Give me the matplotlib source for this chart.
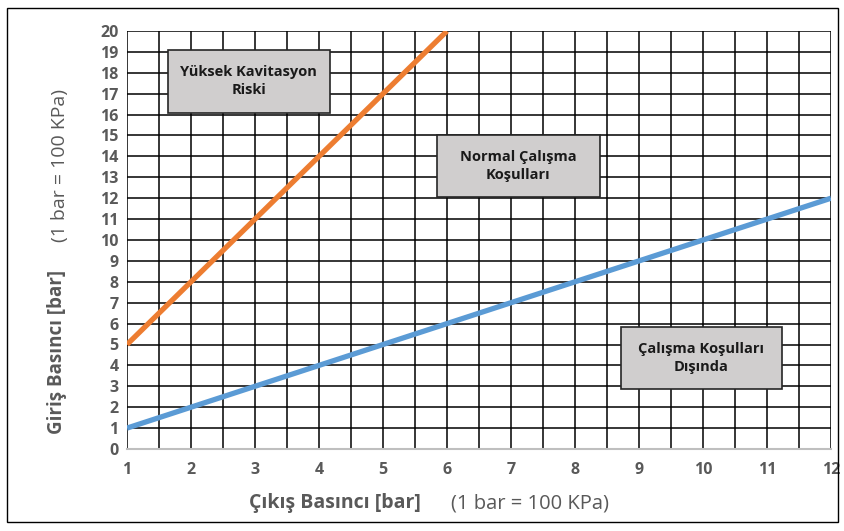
import numpy as np
import matplotlib.pyplot as plt
from matplotlib.patches import Rectangle

plt.rcParams['font.family'] = ['Open Sans', 'DejaVu Sans']

# veriler
x_turuncu = [1, 6]
y_turuncu = [5, 20]
x_mavi = [1, 12]
y_mavi = [1, 12]

x_ticks = list(range(1, 13))
y_ticks = list(range(0, 21))

# etiket kutulari: (metin, x0, y0, x1, y1)
kutular = [
    ("Yüksek Kavitasyon\nRiski", 1.64, 16.1, 4.17, 19.1),
    ("Normal Çalışma\nKoşulları", 5.84, 12.05, 8.39, 15.0),
    ("Çalışma Koşulları\nDışında", 8.72, 2.87, 11.23, 5.84),
]

fig = plt.figure(figsize=(8.44, 5.31), dpi=100)
ax = fig.add_axes([127/844, 82/531, 704/844, 418/531])

# izgara
for v in np.arange(1, 12.01, 0.5):
    ax.axvline(v, color='black', lw=1.1, zorder=1)
for h in y_ticks[1:]:
    ax.axhline(h, color='black', lw=1.1, zorder=1)

ax.plot(x_turuncu, y_turuncu, color='#ED7D31', lw=3.8, zorder=3, solid_capstyle='butt')
ax.plot(x_mavi, y_mavi, color='#5B9BD5', lw=3.8, zorder=3, solid_capstyle='butt')

for metin, x0, y0, x1, y1 in kutular:
    ax.add_patch(Rectangle((x0, y0), x1 - x0, y1 - y0, facecolor='#D0CECE',
                           edgecolor='#262626', lw=1.2, zorder=4))
    ax.text((x0 + x1) / 2, (y0 + y1) / 2, metin, ha='center', va='center',
            fontsize=10.5, fontweight='bold', color='#1a1a1a', zorder=5, linespacing=1.35)

ax.set_xlim(1, 12)
ax.set_ylim(0, 20)
ax.set_xticks(x_ticks)
ax.set_xticklabels([str(t) for t in x_ticks], fontweight='bold', fontsize=11.5)
ax.set_yticks(y_ticks)
ax.set_yticklabels([str(t) for t in y_ticks], fontweight='bold', fontsize=11.5)
ax.tick_params(length=0, labelcolor='#595959')
ax.tick_params(axis='x', pad=9)
ax.tick_params(axis='y', pad=6)
for s in ['top', 'right', 'left']:
    ax.spines[s].set_visible(False)
ax.spines['bottom'].set_color('#BFBFBF')
ax.spines['bottom'].set_linewidth(1.5)

# eksen basliklari
fig.text(335/844, 1 - 503/531, "Çıkış Basıncı [bar]", ha='center', va='center',
         fontsize=14, fontweight='bold', color='#595959')
fig.text(530/844, 1 - 503/531, "(1 bar = 100 KPa)", ha='center', va='center',
         fontsize=14.5, color='#595959')
fig.text(57/844, 1 - 352/531, "Giriş Basıncı [bar]", ha='center', va='center',
         fontsize=13.5, fontweight='bold', color='#595959', rotation=90)
fig.text(60/844, 1 - 166/531, "(1 bar = 100 KPa)", ha='center', va='center',
         fontsize=14, color='#595959', rotation=90)

# dis cerceve
fig.patches.append(Rectangle((7/844, 9/531), 831/844, 514/531, transform=fig.transFigure,
                             fill=False, edgecolor='black', lw=1))

fig.savefig('out.png', dpi=100)
